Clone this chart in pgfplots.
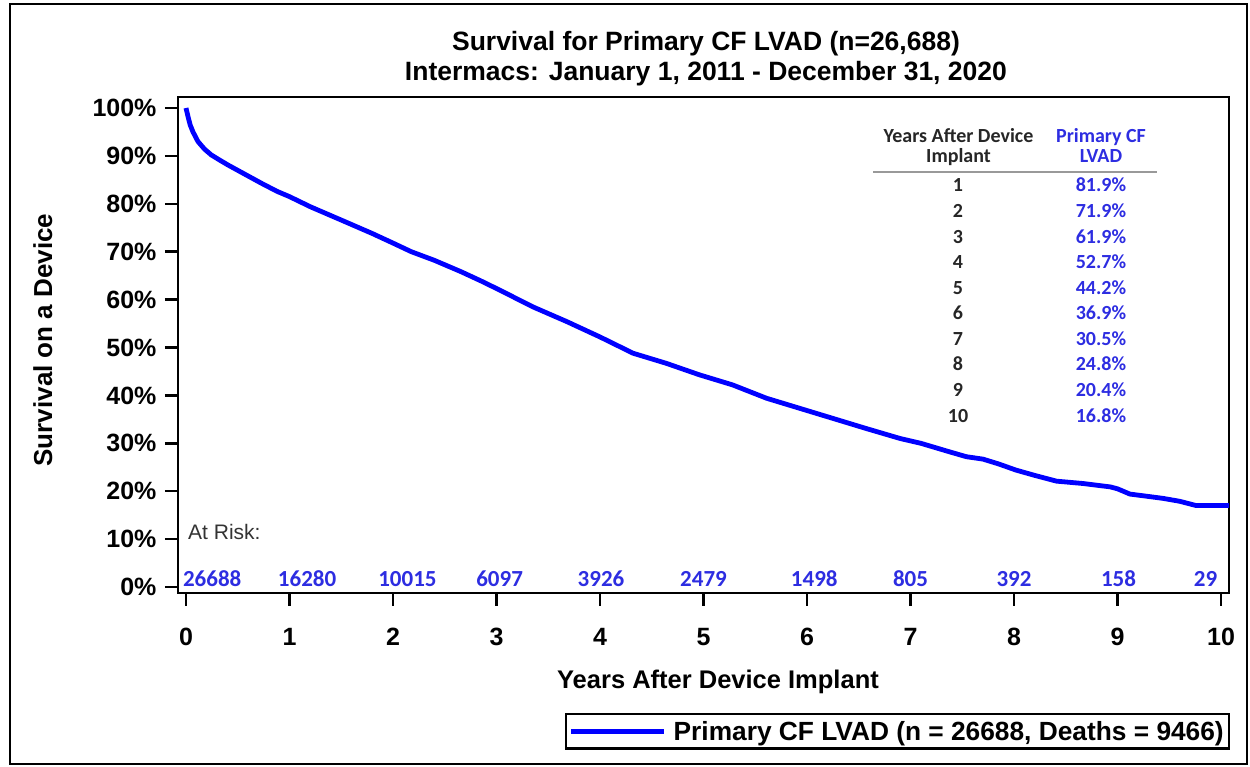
\documentclass[border=0pt]{standalone}
\usepackage{pgfplots}
\pgfplotsset{compat=1.18}
\usepackage{fontspec}
\setmainfont{Liberation Sans}
\newfontfamily\calfont{Carlito}
\definecolor{riskblue}{RGB}{45,45,225}
\definecolor{curveblue}{RGB}{0,0,255}
\begin{document}
\begin{tikzpicture}[x=1bp,y=1bp]
\useasboundingbox (0,0) rectangle (1250,767);
\draw[line width=2.5bp] (10,763) rectangle (1247,3);
% titles
\node[anchor=base,inner sep=0] at (706,716) {\fontsize{26.5bp}{30bp}\selectfont\bfseries Survival for Primary CF LVAD (n=26,688)};
\node[anchor=base,inner sep=0] at (706,686) {\fontsize{26.5bp}{30bp}\selectfont\bfseries Intermacs: January 1, 2011 - December 31, 2020};
% y label
\node[anchor=base,rotate=90,inner sep=0] at (52,427) {\fontsize{26bp}{30bp}\selectfont\bfseries Survival on a Device};
% x label
\node[anchor=base,inner sep=0] at (718,78) {\fontsize{25.5bp}{30bp}\selectfont\bfseries Years After Device Implant};
\begin{axis}[
  at={(178bp,174bp)}, anchor=south west, scale only axis,
  width=1051bp, height=496bp,
  xmin=-0.077, xmax=10.077, ymin=-1.25, ymax=102.3,
  axis line style={line width=2.5bp},
  xtick={0,1,2,3,4,5,6,7,8,9,10},
  xticklabels={0,1,2,3,4,5,6,7,8,9,10},
  ytick={0,10,20,30,40,50,60,70,80,90,100},
  yticklabels={0\%,10\%,20\%,30\%,40\%,50\%,60\%,70\%,80\%,90\%,100\%},
  tick align=outside, tick pos=left,
  major tick length=13bp,
  tick style={line width=2.5bp, black},
  ticklabel style={font=\fontsize{25bp}{30bp}\selectfont\bfseries},
  xticklabel style={yshift=-19bp},
  yticklabel style={xshift=-5bp},
  /pgf/number format/assume math mode=true,
  legend style={at={(1.001,-0.3165)}, anchor=south east, draw=black, line width=2.5bp,
    font=\fontsize{26.3bp}{31bp}\selectfont\bfseries, inner xsep=3bp, inner ysep=5bp,
    column sep=5bp},
  legend cell align=left,
  legend image code/.code={\draw[#1] (0bp,0bp) -- (93bp,0bp);},
]
\addplot[curveblue, line width=4.8bp, line join=round] coordinates {
(0,100) (0.02,98.2) (0.04,96.5) (0.068,95.0) (0.116,93.0) (0.18,91.4) (0.245,90.2)
(0.32,89.2) (0.406,88.1) (0.55,86.4) (0.728,84.3) (0.88,82.6) (1.0,81.5) (1.2,79.4)
(1.533,76.3) (1.8,73.8) (2.0,71.8) (2.177,70.0) (2.4,68.2) (2.66,65.8) (2.85,63.9)
(3.03,62.0) (3.35,58.5) (3.68,55.4) (4.0,52.2) (4.32,48.8) (4.64,46.7) (4.96,44.3)
(5.28,42.2) (5.61,39.4) (5.93,37.3) (6.25,35.2) (6.57,33.1) (6.9,31.0) (7.1,30.0)
(7.38,28.2) (7.54,27.2) (7.70,26.7) (7.85,25.7) (8.02,24.4) (8.2,23.3) (8.41,22.1)
(8.67,21.6) (8.93,20.9) (9.0,20.5) (9.12,19.4) (9.3,18.9) (9.44,18.5) (9.6,17.9)
(9.76,17.0) (10.077,17.0)
};
\addlegendentry{Primary CF LVAD (n = 26688, Deaths = 9466)}
% at risk
\node[anchor=base west,inner sep=0,text=black!80] at (axis cs:0.02,10) {\fontsize{21bp}{25bp}\selectfont At Risk:};
\begin{scope}[every node/.style={anchor=base,inner sep=0,text=riskblue,font=\calfont\bfseries\fontsize{23bp}{27bp}\selectfont}]
\node[anchor=base west] at (axis cs:-0.03,0.2) {26688};
\node at (axis cs:1.17,0.2) {16280};
\node at (axis cs:2.14,0.2) {10015};
\node at (axis cs:3.03,0.2) {6097};
\node at (axis cs:4.01,0.2) {3926};
\node at (axis cs:5.0,0.2) {2479};
\node at (axis cs:6.07,0.2) {1498};
\node at (axis cs:7.0,0.2) {805};
\node at (axis cs:8.0,0.2) {392};
\node at (axis cs:9.01,0.2) {158};
\node at (axis cs:9.85,0.2) {29};
\end{scope}
\end{axis}
% table
\begin{scope}[every node/.style={anchor=base,inner sep=0,font=\calfont\bfseries\fontsize{20bp}{23bp}\selectfont}]
\node[text=black!85] at (958.5,624) {Years After Device};
\node[text=black!85] at (958.5,604) {Implant};
\node[text=riskblue] at (1101,624) {Primary CF};
\node[text=riskblue] at (1101,604) {LVAD};
\draw[gray!80,line width=1.8bp] (873,595) -- (1157,595);
\foreach \i/\v in {1/81.9,2/71.9,3/61.9,4/52.7,5/44.2,6/36.9,7/30.5,8/24.8,9/20.4,10/16.8}{
  \node[text=black!85] at (958,{575-(\i-1)*25.56}) {\i};
  \node[text=riskblue] at (1101,{575-(\i-1)*25.56}) {\v\%};
}
\end{scope}
\end{tikzpicture}
\end{document}
